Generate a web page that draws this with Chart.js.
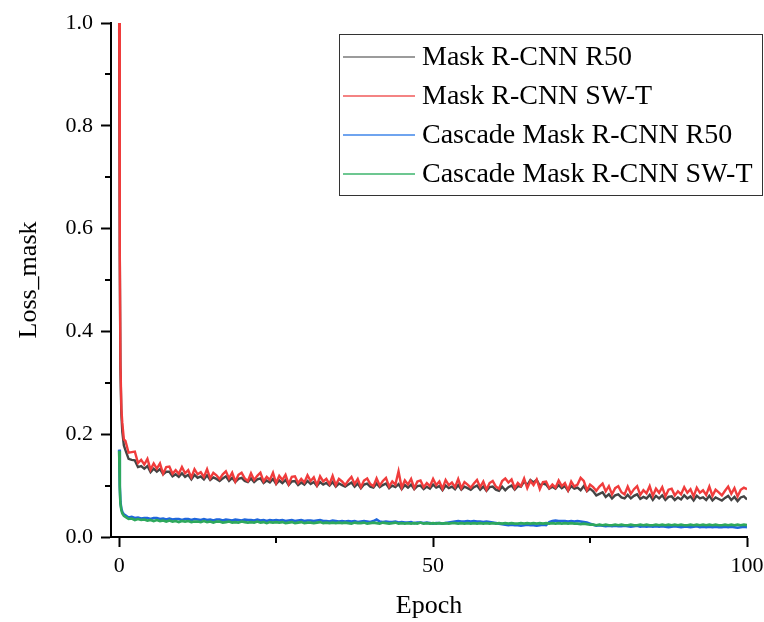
<!DOCTYPE html>
<html>
<head>
<meta charset="utf-8">
<script src="https://cdn.jsdelivr.net/npm/chart.js@4/dist/chart.umd.min.js"></script>
<style>
  html, body { margin: 0; padding: 0; background: #fff; }
  #wrap { width: 764px; height: 622px; }
</style>
</head>
<body>
<div id="wrap"><canvas id="lossChart" width="764" height="622"></canvas></div>
<script>
// sampling positions (epoch)
const epochs = [0, 0.1, 0.2, 0.35, 0.5, 0.75,
  1, 1.5, 2, 2.5, 3, 3.5, 4, 4.5, 5, 5.5,
  6, 6.5, 7, 7.5, 8, 8.5, 9, 9.5, 10, 10.5,
  11, 11.5, 12, 12.5, 13, 13.5, 14, 14.5, 15, 15.5,
  16, 16.5, 17, 17.5, 18, 18.5, 19, 19.5, 20, 20.5,
  21, 21.5, 22, 22.5, 23, 23.5, 24, 24.5, 25, 25.5,
  26, 26.5, 27, 27.5, 28, 28.5, 29, 29.5, 30, 30.5,
  31, 31.5, 32, 32.5, 33, 33.5, 34, 34.5, 35, 35.5,
  36, 36.5, 37, 37.5, 38, 38.5, 39, 39.5, 40, 40.5,
  41, 41.5, 42, 42.5, 43, 43.5, 44, 44.5, 45, 45.5,
  46, 46.5, 47, 47.5, 48, 48.5, 49, 49.5, 50, 50.5,
  51, 51.5, 52, 52.5, 53, 53.5, 54, 54.5, 55, 55.5,
  56, 56.5, 57, 57.5, 58, 58.5, 59, 59.5, 60, 60.5,
  61, 61.5, 62, 62.5, 63, 63.5, 64, 64.5, 65, 65.5,
  66, 66.5, 67, 67.5, 68, 68.5, 69, 69.5, 70, 70.5,
  71, 71.5, 72, 72.5, 73, 73.5, 74, 74.5, 75, 75.5,
  76, 76.5, 77, 77.5, 78, 78.5, 79, 79.5, 80, 80.5,
  81, 81.5, 82, 82.5, 83, 83.5, 84, 84.5, 85, 85.5,
  86, 86.5, 87, 87.5, 88, 88.5, 89, 89.5, 90, 90.5,
  91, 91.5, 92, 92.5, 93, 93.5, 94, 94.5, 95, 95.5,
  96, 96.5, 97, 97.5, 98, 98.5, 99, 99.5, 100];

const maskR50 = [0.99, 0.545, 0.33, 0.24, 0.205, 0.178,
  0.169, 0.152, 0.150, 0.149, 0.136, 0.138, 0.133, 0.138, 0.126, 0.133,
  0.127, 0.132, 0.122, 0.127, 0.127, 0.118, 0.122, 0.117, 0.124, 0.117,
  0.121, 0.112, 0.121, 0.115, 0.118, 0.112, 0.120, 0.111, 0.116, 0.113,
  0.109, 0.114, 0.118, 0.109, 0.115, 0.107, 0.113, 0.115, 0.109, 0.107,
  0.114, 0.107, 0.112, 0.114, 0.105, 0.110, 0.106, 0.113, 0.103, 0.110,
  0.105, 0.111, 0.101, 0.108, 0.109, 0.101, 0.106, 0.102, 0.109, 0.103,
  0.107, 0.099, 0.107, 0.102, 0.105, 0.100, 0.107, 0.098, 0.104, 0.101,
  0.098, 0.102, 0.106, 0.098, 0.104, 0.095, 0.102, 0.104, 0.098, 0.096,
  0.104, 0.097, 0.101, 0.104, 0.095, 0.100, 0.097, 0.103, 0.093, 0.101,
  0.096, 0.102, 0.093, 0.099, 0.100, 0.093, 0.098, 0.094, 0.102, 0.096,
  0.099, 0.091, 0.100, 0.095, 0.098, 0.093, 0.101, 0.092, 0.098, 0.095,
  0.092, 0.097, 0.100, 0.092, 0.098, 0.090, 0.097, 0.098, 0.092, 0.090,
  0.098, 0.091, 0.097, 0.100, 0.092, 0.099, 0.098, 0.108, 0.101, 0.111,
  0.106, 0.111, 0.100, 0.104, 0.102, 0.094, 0.098, 0.094, 0.101, 0.095,
  0.099, 0.090, 0.099, 0.094, 0.096, 0.091, 0.099, 0.089, 0.094, 0.089,
  0.081, 0.084, 0.087, 0.078, 0.083, 0.075, 0.081, 0.083, 0.077, 0.075,
  0.082, 0.075, 0.080, 0.083, 0.074, 0.078, 0.075, 0.082, 0.072, 0.080,
  0.075, 0.081, 0.072, 0.078, 0.079, 0.072, 0.077, 0.073, 0.081, 0.075,
  0.079, 0.071, 0.080, 0.075, 0.077, 0.072, 0.080, 0.071, 0.077, 0.074,
  0.071, 0.076, 0.080, 0.072, 0.078, 0.070, 0.077, 0.079, 0.073];

const maskSwT = [1.00, 0.55, 0.34, 0.25, 0.222, 0.19,
  0.187, 0.164, 0.165, 0.166, 0.144, 0.150, 0.141, 0.152, 0.131, 0.143,
  0.133, 0.143, 0.123, 0.136, 0.137, 0.123, 0.130, 0.123, 0.136, 0.124,
  0.130, 0.116, 0.132, 0.122, 0.126, 0.117, 0.132, 0.114, 0.125, 0.120,
  0.113, 0.122, 0.128, 0.114, 0.125, 0.108, 0.121, 0.125, 0.114, 0.109,
  0.124, 0.111, 0.119, 0.125, 0.108, 0.117, 0.111, 0.125, 0.105, 0.119,
  0.111, 0.121, 0.103, 0.117, 0.118, 0.105, 0.113, 0.106, 0.120, 0.109,
  0.116, 0.101, 0.118, 0.108, 0.113, 0.103, 0.119, 0.101, 0.113, 0.108,
  0.101, 0.110, 0.117, 0.103, 0.113, 0.097, 0.110, 0.114, 0.103, 0.099,
  0.114, 0.100, 0.109, 0.115, 0.098, 0.108, 0.102, 0.128, 0.096, 0.110,
  0.102, 0.113, 0.095, 0.108, 0.110, 0.097, 0.105, 0.099, 0.113, 0.101,
  0.108, 0.094, 0.111, 0.101, 0.106, 0.097, 0.113, 0.095, 0.107, 0.102,
  0.096, 0.104, 0.111, 0.097, 0.108, 0.092, 0.105, 0.109, 0.098, 0.094,
  0.109, 0.114, 0.106, 0.112, 0.095, 0.105, 0.099, 0.114, 0.095, 0.109,
  0.101, 0.112, 0.093, 0.107, 0.108, 0.095, 0.102, 0.096, 0.110, 0.099,
  0.105, 0.091, 0.108, 0.098, 0.102, 0.115, 0.109, 0.091, 0.102, 0.097,
  0.090, 0.098, 0.104, 0.089, 0.099, 0.083, 0.095, 0.099, 0.087, 0.083,
  0.098, 0.084, 0.093, 0.099, 0.082, 0.091, 0.085, 0.099, 0.080, 0.094,
  0.086, 0.097, 0.079, 0.092, 0.094, 0.081, 0.089, 0.083, 0.097, 0.086,
  0.093, 0.079, 0.096, 0.086, 0.091, 0.082, 0.098, 0.080, 0.092, 0.087,
  0.081, 0.090, 0.098, 0.084, 0.095, 0.079, 0.092, 0.096, 0.093];

const cascadeR50 = [0.170, 0.100, 0.068, 0.055, 0.049, 0.044,
  0.042, 0.038, 0.039, 0.037, 0.038, 0.036, 0.037, 0.037, 0.035, 0.037,
  0.037, 0.035, 0.036, 0.034, 0.036, 0.034, 0.035, 0.035, 0.033, 0.035,
  0.035, 0.033, 0.035, 0.034, 0.033, 0.035, 0.033, 0.034, 0.032, 0.034,
  0.034, 0.032, 0.034, 0.033, 0.032, 0.034, 0.033, 0.032, 0.034, 0.033,
  0.033, 0.032, 0.034, 0.032, 0.033, 0.031, 0.033, 0.032, 0.033, 0.032,
  0.033, 0.031, 0.032, 0.033, 0.031, 0.032, 0.033, 0.031, 0.032, 0.032,
  0.031, 0.032, 0.033, 0.031, 0.031, 0.030, 0.032, 0.031, 0.030, 0.031,
  0.030, 0.031, 0.030, 0.031, 0.029, 0.030, 0.031, 0.030, 0.029, 0.031,
  0.034, 0.030, 0.029, 0.030, 0.029, 0.029, 0.030, 0.028, 0.029, 0.028,
  0.028, 0.029, 0.027, 0.028, 0.028, 0.027, 0.028, 0.027, 0.026, 0.027,
  0.027, 0.026, 0.027, 0.028, 0.029, 0.030, 0.031, 0.030, 0.030, 0.031,
  0.030, 0.031, 0.030, 0.030, 0.029, 0.030, 0.029, 0.028, 0.027, 0.026,
  0.025, 0.024, 0.023, 0.024, 0.023, 0.023, 0.022, 0.023, 0.024, 0.023,
  0.023, 0.022, 0.023, 0.024, 0.023, 0.029, 0.031, 0.032, 0.031, 0.031,
  0.031, 0.030, 0.031, 0.030, 0.031, 0.030, 0.029, 0.028, 0.026, 0.024,
  0.022, 0.023, 0.022, 0.021, 0.022, 0.021, 0.022, 0.021, 0.021, 0.022,
  0.021, 0.020, 0.021, 0.022, 0.020, 0.021, 0.020, 0.021, 0.020, 0.021,
  0.020, 0.021, 0.020, 0.019, 0.020, 0.021, 0.020, 0.019, 0.020, 0.020,
  0.019, 0.020, 0.021, 0.019, 0.020, 0.019, 0.020, 0.019, 0.020, 0.019,
  0.019, 0.020, 0.019, 0.020, 0.019, 0.018, 0.019, 0.020, 0.019];

const cascadeSwT = [0.168, 0.095, 0.065, 0.052, 0.046, 0.041,
  0.039, 0.035, 0.036, 0.033, 0.035, 0.033, 0.034, 0.032, 0.033, 0.031,
  0.033, 0.031, 0.032, 0.030, 0.032, 0.030, 0.031, 0.029, 0.031, 0.030,
  0.031, 0.029, 0.030, 0.030, 0.029, 0.031, 0.029, 0.030, 0.028, 0.030,
  0.030, 0.028, 0.029, 0.030, 0.028, 0.029, 0.028, 0.030, 0.029, 0.028,
  0.029, 0.028, 0.030, 0.028, 0.029, 0.027, 0.029, 0.028, 0.029, 0.028,
  0.029, 0.027, 0.028, 0.029, 0.027, 0.028, 0.029, 0.027, 0.028, 0.028,
  0.027, 0.028, 0.029, 0.027, 0.028, 0.027, 0.028, 0.027, 0.028, 0.027,
  0.028, 0.027, 0.026, 0.028, 0.027, 0.027, 0.028, 0.026, 0.027, 0.028,
  0.027, 0.026, 0.028, 0.027, 0.026, 0.027, 0.028, 0.026, 0.027, 0.026,
  0.027, 0.026, 0.027, 0.026, 0.028, 0.026, 0.027, 0.026, 0.027, 0.026,
  0.027, 0.026, 0.027, 0.026, 0.027, 0.027, 0.026, 0.027, 0.026, 0.027,
  0.026, 0.027, 0.026, 0.027, 0.026, 0.027, 0.026, 0.027, 0.026, 0.027,
  0.026, 0.027, 0.026, 0.027, 0.026, 0.026, 0.027, 0.026, 0.027, 0.026,
  0.027, 0.026, 0.027, 0.026, 0.027, 0.026, 0.027, 0.026, 0.027, 0.026,
  0.027, 0.026, 0.027, 0.026, 0.026, 0.025, 0.026, 0.025, 0.024, 0.024,
  0.023, 0.024, 0.023, 0.024, 0.023, 0.023, 0.024, 0.023, 0.024, 0.023,
  0.023, 0.024, 0.023, 0.023, 0.024, 0.023, 0.024, 0.023, 0.023, 0.024,
  0.023, 0.024, 0.023, 0.024, 0.023, 0.024, 0.023, 0.024, 0.023, 0.023,
  0.024, 0.023, 0.024, 0.023, 0.024, 0.023, 0.024, 0.023, 0.024, 0.023,
  0.023, 0.024, 0.023, 0.024, 0.023, 0.024, 0.023, 0.024, 0.023];

const seriesNames = ['Mask R-CNN R50', 'Mask R-CNN SW-T', 'Cascade Mask R-CNN R50', 'Cascade Mask R-CNN SW-T'];
const xMajorTicks = [0, 50, 100];
const xMinorTicks = [25, 75];
const yMinorTicks = [0.1, 0.3, 0.5, 0.7, 0.9];

const serif = "'Liberation Serif', 'Times New Roman', serif";

function toPoints(values) {
  return values.map((v, i) => ({ x: epochs[i], y: v }));
}

// short minor ticks on both axes
const minorTickPlugin = {
  id: 'minorTicks',
  afterDraw(chart) {
    const { ctx, chartArea, scales } = chart;
    ctx.save();
    ctx.strokeStyle = '#000';
    ctx.lineWidth = 2;
    ctx.beginPath();
    xMinorTicks.forEach(v => {
      const px = Math.round(scales.x.getPixelForValue(v));
      ctx.moveTo(px, chartArea.bottom);
      ctx.lineTo(px, chartArea.bottom + 6);
    });
    yMinorTicks.forEach(v => {
      const py = Math.round(scales.y.getPixelForValue(v));
      ctx.moveTo(chartArea.left - 6, py);
      ctx.lineTo(chartArea.left, py);
    });
    ctx.stroke();
    ctx.restore();
  }
};

// boxed legend in the upper right corner
const boxLegendPlugin = {
  id: 'boxLegend',
  afterDraw(chart) {
    const { ctx } = chart;
    const left = 339, top = 34, width = 424, height = 162;
    ctx.save();
    ctx.fillStyle = '#fff';
    ctx.fillRect(left, top, width, height);
    ctx.strokeStyle = '#333';
    ctx.lineWidth = 1;
    ctx.strokeRect(left + 0.5, top + 0.5, width - 1, height - 1);
    ctx.font = "28px " + serif;
    ctx.textBaseline = 'middle';
    ctx.fillStyle = '#000';
    chart.data.datasets.forEach((ds, i) => {
      const y = 57 + i * 39;
      ctx.strokeStyle = ds.legendColor;
      ctx.lineWidth = 1.5;
      ctx.beginPath();
      ctx.moveTo(343, y);
      ctx.lineTo(415, y);
      ctx.stroke();
      ctx.fillText(ds.label, 422, y + 1);
    });
    ctx.restore();
  }
};

const ctx = document.getElementById('lossChart').getContext('2d');

new Chart(ctx, {
  type: 'line',
  data: {
    datasets: [
      { label: seriesNames[0], data: toPoints(maskR50), borderColor: '#444444', legendColor: '#7a7a7a', borderWidth: 2.4, order: 3 },
      { label: seriesNames[1], data: toPoints(maskSwT), borderColor: '#f03c3c', legendColor: '#f05a5a', borderWidth: 2.4, order: 2 },
      { label: seriesNames[2], data: toPoints(cascadeR50), borderColor: '#1f66dc', legendColor: '#3f86ea', borderWidth: 2.6, order: 1 },
      { label: seriesNames[3], data: toPoints(cascadeSwT), borderColor: '#2ea85c', legendColor: '#3cb46c', borderWidth: 2.6, order: 0 }
    ]
  },
  options: {
    responsive: false,
    animation: false,
    devicePixelRatio: 1,
    layout: { padding: { top: 23, right: 17, left: 0, bottom: 0 } },
    elements: {
      point: { radius: 0 },
      line: { tension: 0 }
    },
    plugins: {
      legend: { display: false },
      tooltip: { enabled: false }
    },
    scales: {
      x: {
        type: 'linear',
        min: -1.3,
        max: 100,
        afterBuildTicks: (scale) => { scale.ticks = xMajorTicks.map(v => ({ value: v })); },
        afterFit: (scale) => {
          scale.height = 85;
          scale.paddingLeft = 0;
          scale.paddingRight = 0;
        },
        border: { display: true, color: '#000', width: 2 },
        grid: { drawOnChartArea: false, drawTicks: true, tickLength: 10, color: '#000', tickWidth: 2 },
        ticks: {
          maxRotation: 0,
          padding: 6,
          color: '#000',
          font: { family: serif, size: 22 }
        },
        title: {
          display: true,
          text: 'Epoch',
          color: '#000',
          font: { family: serif, size: 26 },
          padding: { top: 0, bottom: 0 }
        }
      },
      y: {
        min: 0,
        max: 1,
        afterFit: (scale) => { scale.width = 111; },
        border: { display: true, color: '#000', width: 2 },
        grid: { drawOnChartArea: false, drawTicks: true, tickLength: 10, color: '#000', tickWidth: 2 },
        ticks: {
          stepSize: 0.2,
          padding: 8,
          color: '#000',
          font: { family: serif, size: 22 },
          callback: (v) => v.toFixed(1)
        },
        title: {
          display: true,
          text: 'Loss_mask',
          color: '#000',
          font: { family: serif, size: 26 },
          padding: { top: 14, bottom: 0 }
        }
      }
    }
  },
  plugins: [minorTickPlugin, boxLegendPlugin]
});
</script>
</body>
</html>
